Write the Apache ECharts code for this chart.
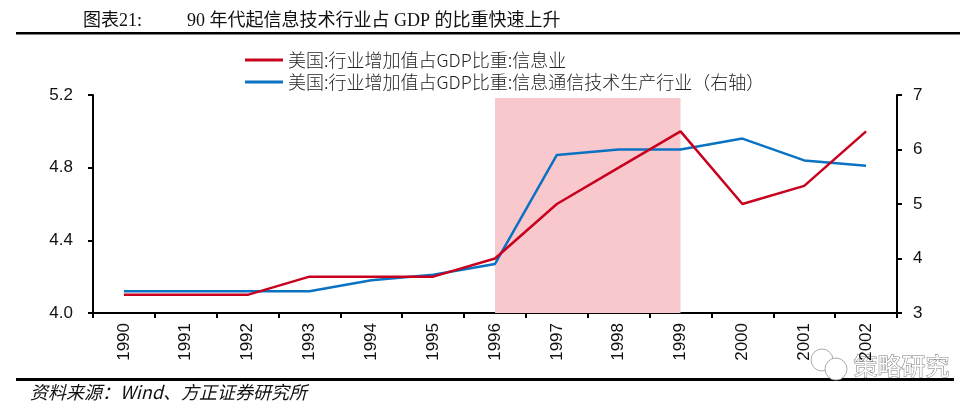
<!DOCTYPE html>
<html>
<head>
<meta charset="utf-8">
<script src="https://cdn.jsdelivr.net/npm/echarts@6/dist/echarts.min.js"></script>
<style>
  html, body { margin: 0; padding: 0; background: #fff; }
  #chart { width: 980px; height: 410px; }
</style>
</head>
<body>
<div id="chart"></div>
<script>
// 年份
var years = ['1990', '1991', '1992', '1993', '1994', '1995', '1996',
             '1997', '1998', '1999', '2000', '2001', '2002'];
// 信息业 (左轴, %)
var infoShare = [4.1, 4.1, 4.1, 4.2, 4.2, 4.2, 4.3, 4.6, 4.8, 5.0, 4.6, 4.7, 5.0];
// 信息通信技术生产行业 (右轴, %)
var ictShare = [3.4, 3.4, 3.4, 3.4, 3.6, 3.7, 3.9, 5.9, 6.0, 6.0, 6.2, 5.8, 5.7];
// 阴影区间
var shadeRange = ['1996', '1999'];

var seriesNames = [
  '美国:行业增加值占GDP比重:信息业',
  '美国:行业增加值占GDP比重:信息通信技术生产行业（右轴）'
];

var cjk = '"Noto Sans CJK SC", "Liberation Sans", sans-serif';
var serif = '"Liberation Serif", "Noto Sans CJK SC", serif';

var chart = echarts.init(document.getElementById('chart'));

chart.setOption({
  animation: false,
  backgroundColor: '#fff',
  textStyle: { fontFamily: cjk },
  grid: { left: 93, right: 83, top: 95, bottom: 97, containLabel: false },
  legend: {
    orient: 'vertical',
    left: 240,
    top: 46,
    itemWidth: 38,
    itemHeight: 3,
    itemGap: 4,
    icon: 'rect',
    textStyle: { fontSize: 18, color: '#222', fontFamily: cjk, fontWeight: 300 },
    data: seriesNames
  },
  graphic: [
    { type: 'text', left: 83, top: 12,
      style: { text: '图表21:', font: '18px ' + serif, fill: '#111' } },
    { type: 'text', left: 187, top: 12,
      style: { text: '90 年代起信息技术行业占 GDP 的比重快速上升', font: '18px ' + serif, fill: '#111' } },
    { type: 'rect', shape: { x: 16, y: 32, width: 944, height: 2.5 }, style: { fill: '#000' } },
    { type: 'rect', shape: { x: 16, y: 378, width: 938, height: 3 }, style: { fill: '#000' } },
    { type: 'text', left: 30, top: 383,
      style: { text: '资料来源：Wind、方正证券研究所', font: 'italic 18px ' + cjk, fill: '#111' } },
    // 水印
    { type: 'circle', shape: { cx: 822, cy: 360, r: 11 },
      style: { fill: '#fff', stroke: '#aaa', lineWidth: 1 } },
    { type: 'circle', shape: { cx: 836, cy: 369, r: 11 },
      style: { fill: '#fff', stroke: '#aaa', lineWidth: 1 } },
    { type: 'text', left: 853, top: 353,
      style: { text: '策略研究', font: '24px ' + cjk, fill: '#fff', stroke: '#777', lineWidth: 1 } }
  ],
  xAxis: {
    type: 'category',
    data: years,
    boundaryGap: true,
    axisLine: { lineStyle: { color: '#000', width: 2 } },
    axisTick: { show: true, length: 5, inside: false, lineStyle: { color: '#000', width: 2 } },
    axisLabel: {
      rotate: 90, margin: 10, fontSize: 17, color: '#111',
      fontFamily: '"Liberation Sans", Arial, sans-serif'
    },
    splitLine: { show: false }
  },
  yAxis: [
    {
      type: 'value', min: 4.0, max: 5.2, interval: 0.4,
      axisLine: { show: true, lineStyle: { color: '#000', width: 2 } },
      axisTick: { show: true, length: 5, lineStyle: { color: '#000', width: 2 } },
      axisLabel: {
        margin: 20, fontSize: 17, color: '#111',
        fontFamily: '"Liberation Sans", Arial, sans-serif',
        formatter: function (v) { return v.toFixed(1); }
      },
      splitLine: { show: false }
    },
    {
      type: 'value', min: 3, max: 7, interval: 1,
      axisLine: { show: true, lineStyle: { color: '#000', width: 2 } },
      axisTick: { show: true, length: 5, lineStyle: { color: '#000', width: 2 } },
      axisLabel: {
        margin: 16, fontSize: 17, color: '#111',
        fontFamily: '"Liberation Sans", Arial, sans-serif'
      },
      splitLine: { show: false }
    }
  ],
  series: [
    {
      name: seriesNames[0],
      type: 'line',
      yAxisIndex: 0,
      data: infoShare,
      symbol: 'none',
      z: 3,
      lineStyle: { color: '#c8001e', width: 2.5 },
      itemStyle: { color: '#c8001e' },
      markArea: {
        silent: true,
        itemStyle: { color: '#f8c8cc' },
        data: [[{ xAxis: shadeRange[0], yAxis: 4.0 }, { xAxis: shadeRange[1], yAxis: 5.183 }]]
      }
    },
    {
      name: seriesNames[1],
      type: 'line',
      yAxisIndex: 1,
      data: ictShare,
      symbol: 'none',
      z: 2,
      lineStyle: { color: '#0a72c2', width: 2.5 },
      itemStyle: { color: '#0a72c2' }
    }
  ]
});
</script>
</body>
</html>
